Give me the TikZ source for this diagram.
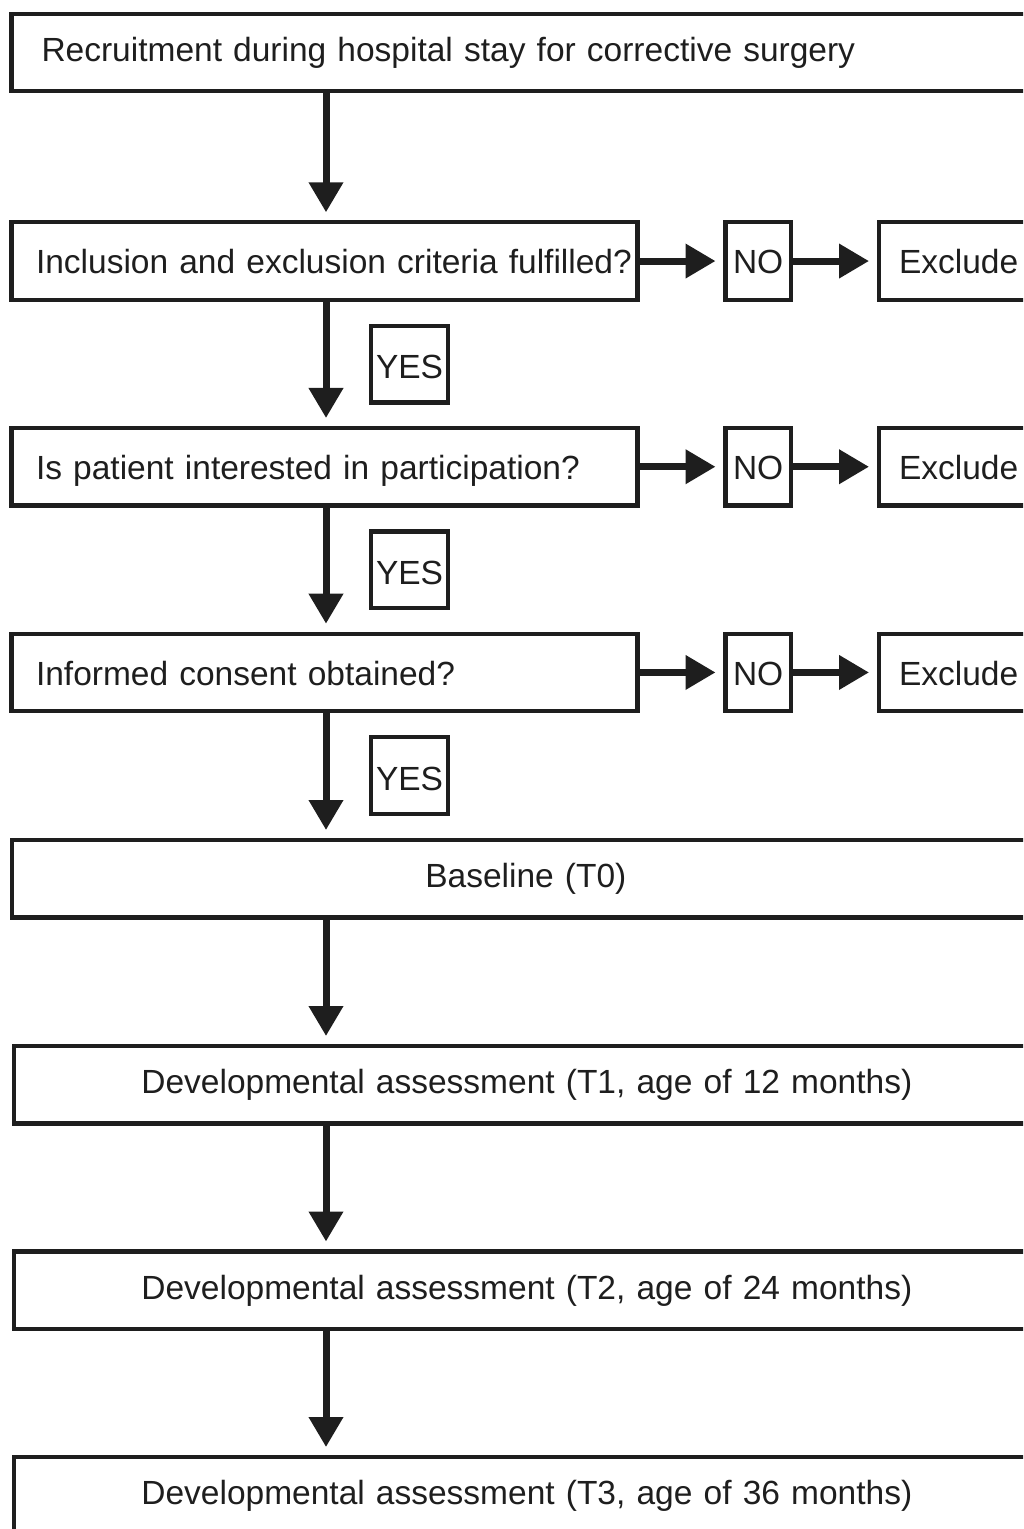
\documentclass[tikz,border=0pt]{standalone}
\usepackage{fontspec}
\setmainfont{Liberation Sans}
\usetikzlibrary{arrows.meta}
\definecolor{lc}{RGB}{30,30,30}
\begin{document}
\begin{tikzpicture}[x=0.5pt,y=-0.5pt,
  every node/.style={font=\fontsize{16.75pt}{20pt}\selectfont, text=lc},
  box/.style={draw=lc, line width=2.1pt, inner ysep=0pt, outer sep=0pt,
    anchor=north west, text height=23.75pt, text depth=15pt},
  rowbox/.style={text height=25.75pt, text depth=13pt},
  lbox/.style={box, align=left},
  cbox/.style={box, align=center, inner xsep=0pt},
  ybox/.style={box, align=center, inner xsep=0pt, text height=26.5pt, text depth=11.85pt},
  arr/.style={draw=lc, line width=3.5pt, -{Triangle[length=15pt,width=16.5pt]}, shorten >=5pt}
]
\useasboundingbox (0,0) rectangle (1023,1529);
\clip (0,0) rectangle (1023,1529);
\coordinate (ax) at (326,0);

% main column
\node[lbox, inner xsep=15pt, text width=484.25pt] (b1) at (11.5,13.7)
  {\mbox{Recruitment during hospital stay for corrective surgery}};
\node[lbox, rowbox, inner xsep=12.25pt, text width=288.5pt] (b2) at (11.5,222.3)
  {\mbox{Inclusion and exclusion criteria fulfilled?}};
\node[lbox, rowbox, inner xsep=12.25pt, text width=288.5pt] (b3) at (11.5,428)
  {\mbox{Is patient interested in participation?}};
\node[lbox, rowbox, inner xsep=12.25pt, text width=288.5pt] (b4) at (11.5,633.7)
  {\mbox{Informed consent obtained?}};
\node[cbox, text width=514.15pt] (b5) at (11.7,840)
  {Baseline (T0)};
\node[cbox, text width=513.15pt] (b6) at (13.7,1046)
  {Developmental assessment (T1, age of 12 months)};
\node[cbox, text width=513.15pt] (b7) at (13.7,1251.5)
  {Developmental assessment (T2, age of 24 months)};
\node[cbox, text width=513.15pt] (b8) at (13.7,1457)
  {Developmental assessment (T3, age of 36 months)};

% NO boxes
\node[cbox, rowbox, text width=32.65pt] (n1) at (725.5,222.3) {NO};
\node[cbox, rowbox, text width=32.65pt] (n2) at (725.5,428) {NO};
\node[cbox, rowbox, text width=32.65pt] (n3) at (725.5,633.7) {NO};

% Exclude boxes
\node[lbox, rowbox, inner xsep=10pt, text width=60.5pt] (e1) at (879,222.3) {Exclude};
\node[lbox, rowbox, inner xsep=10pt, text width=60.5pt] (e2) at (879,428) {Exclude};
\node[lbox, rowbox, inner xsep=10pt, text width=60.5pt] (e3) at (879,633.7) {Exclude};

% YES boxes
\node[ybox, text width=38.75pt] (y1) at (370.8,325.8) {YES};
\node[ybox, text width=38.75pt] (y2) at (370.8,531.5) {YES};
\node[ybox, text width=38.75pt] (y3) at (370.8,737.2) {YES};

% vertical arrows
\draw[arr] (b1.south -| ax) -- (b2.north -| ax);
\draw[arr] (b2.south -| ax) -- (b3.north -| ax);
\draw[arr] (b3.south -| ax) -- (b4.north -| ax);
\draw[arr] (b4.south -| ax) -- (b5.north -| ax);
\draw[arr] (b5.south -| ax) -- (b6.north -| ax);
\draw[arr] (b6.south -| ax) -- (b7.north -| ax);
\draw[arr] (b7.south -| ax) -- (b8.north -| ax);

% horizontal arrows
\draw[arr] (b2.east) -- (n1.west);
\draw[arr] (n1.east) -- (e1.west);
\draw[arr] (b3.east) -- (n2.west);
\draw[arr] (n2.east) -- (e2.west);
\draw[arr] (b4.east) -- (n3.west);
\draw[arr] (n3.east) -- (e3.west);
\end{tikzpicture}
\end{document}
